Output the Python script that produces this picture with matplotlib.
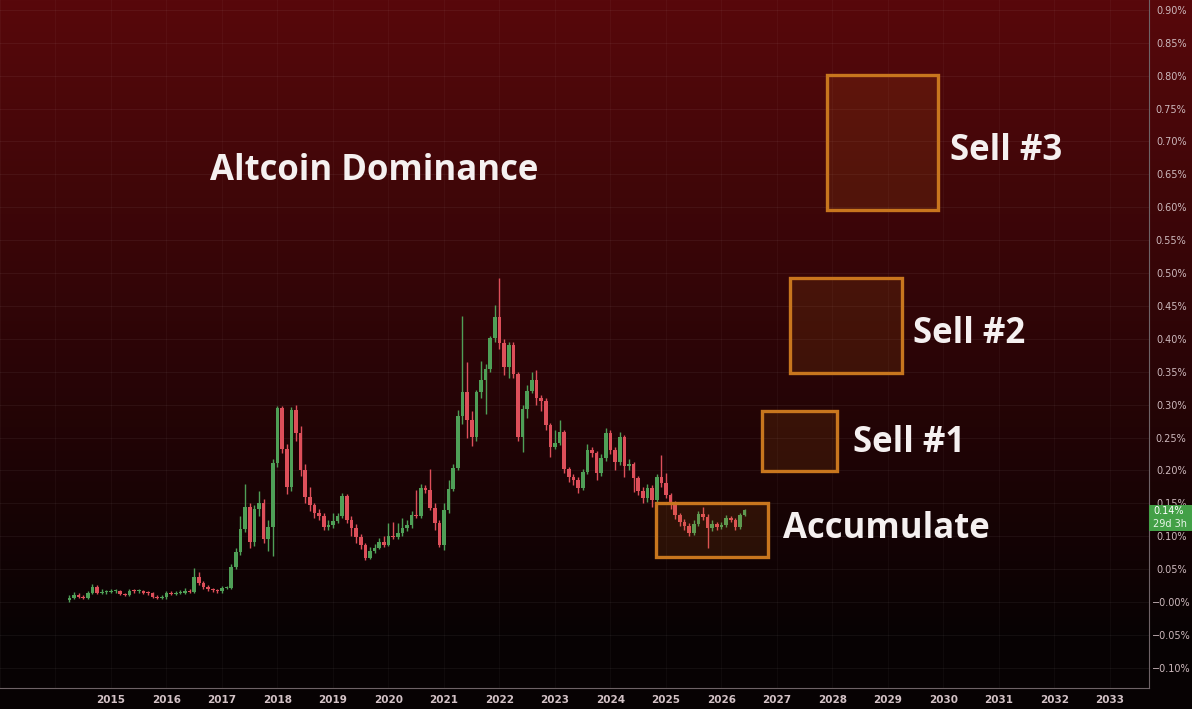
import matplotlib
matplotlib.use("Agg")
import matplotlib.pyplot as plt
import matplotlib.transforms as mtransforms
from matplotlib.patches import Rectangle
import numpy as np
import pandas as pd

# monthly candles, values in percent, starting April 2014
first_open = 0.003
close = [0.006, 0.011, 0.008, 0.006, 0.014, 0.023, 0.014, 0.015, 0.015, 0.016,
         0.016, 0.012, 0.011, 0.017, 0.016, 0.016, 0.014, 0.013, 0.008, 0.006,
         0.007, 0.013, 0.012, 0.014, 0.014, 0.017, 0.015, 0.038, 0.029, 0.023,
         0.020, 0.018, 0.016, 0.021, 0.022, 0.053, 0.076, 0.111, 0.144, 0.091,
         0.141, 0.150, 0.096, 0.114, 0.211, 0.295, 0.233, 0.175, 0.292, 0.257,
         0.201, 0.160, 0.147, 0.135, 0.131, 0.114, 0.117, 0.123, 0.131, 0.161,
         0.125, 0.112, 0.099, 0.087, 0.067, 0.078, 0.082, 0.091, 0.087, 0.100,
         0.099, 0.105, 0.112, 0.117, 0.132, 0.131, 0.173, 0.170, 0.143, 0.120,
         0.087, 0.140, 0.172, 0.204, 0.283, 0.319, 0.277, 0.251, 0.319, 0.337,
         0.354, 0.401, 0.433, 0.394, 0.357, 0.391, 0.347, 0.251, 0.293, 0.321,
         0.337, 0.310, 0.305, 0.269, 0.236, 0.242, 0.258, 0.202, 0.190, 0.185,
         0.173, 0.198, 0.231, 0.226, 0.196, 0.219, 0.257, 0.231, 0.213, 0.251,
         0.207, 0.210, 0.188, 0.169, 0.158, 0.173, 0.155, 0.190, 0.181, 0.163,
         0.150, 0.132, 0.122, 0.116, 0.105, 0.119, 0.134, 0.129, 0.112, 0.119,
         0.114, 0.117, 0.128, 0.125, 0.114, 0.132, 0.140]
high = [0.010, 0.015, 0.013, 0.010, 0.017, 0.027, 0.026, 0.019, 0.018, 0.019,
        0.020, 0.018, 0.014, 0.020, 0.020, 0.019, 0.018, 0.016, 0.015, 0.010,
        0.010, 0.016, 0.016, 0.017, 0.018, 0.021, 0.019, 0.051, 0.046, 0.032,
        0.026, 0.022, 0.020, 0.024, 0.025, 0.058, 0.082, 0.131, 0.179, 0.150,
        0.148, 0.168, 0.156, 0.125, 0.218, 0.298, 0.298, 0.240, 0.296, 0.300,
        0.268, 0.210, 0.175, 0.150, 0.142, 0.136, 0.124, 0.135, 0.136, 0.165,
        0.164, 0.130, 0.118, 0.103, 0.090, 0.083, 0.088, 0.097, 0.100, 0.120,
        0.122, 0.120, 0.128, 0.125, 0.138, 0.170, 0.180, 0.178, 0.202, 0.150,
        0.125, 0.150, 0.185, 0.210, 0.292, 0.434, 0.365, 0.290, 0.322, 0.366,
        0.362, 0.405, 0.452, 0.492, 0.400, 0.395, 0.395, 0.350, 0.300, 0.330,
        0.350, 0.352, 0.315, 0.310, 0.272, 0.262, 0.277, 0.262, 0.205, 0.195,
        0.190, 0.202, 0.240, 0.235, 0.230, 0.225, 0.264, 0.262, 0.235, 0.258,
        0.254, 0.218, 0.213, 0.192, 0.175, 0.180, 0.178, 0.195, 0.224, 0.196,
        0.166, 0.153, 0.135, 0.126, 0.120, 0.125, 0.138, 0.144, 0.134, 0.124,
        0.122, 0.122, 0.132, 0.131, 0.128, 0.135, 0.142]
low = [0.000, 0.004, 0.006, 0.004, 0.004, 0.012, 0.012, 0.012, 0.012, 0.013,
       0.013, 0.010, 0.009, 0.009, 0.014, 0.014, 0.012, 0.011, 0.006, 0.004,
       0.004, 0.005, 0.010, 0.010, 0.012, 0.012, 0.013, 0.013, 0.026, 0.019,
       0.017, 0.015, 0.013, 0.014, 0.019, 0.020, 0.050, 0.072, 0.107, 0.082,
       0.085, 0.130, 0.090, 0.077, 0.070, 0.205, 0.226, 0.164, 0.168, 0.245,
       0.192, 0.150, 0.138, 0.128, 0.124, 0.109, 0.110, 0.112, 0.120, 0.128,
       0.120, 0.100, 0.090, 0.080, 0.064, 0.066, 0.075, 0.080, 0.084, 0.085,
       0.095, 0.096, 0.100, 0.108, 0.112, 0.127, 0.128, 0.166, 0.140, 0.110,
       0.083, 0.079, 0.135, 0.168, 0.200, 0.270, 0.250, 0.237, 0.245, 0.310,
       0.285, 0.350, 0.395, 0.385, 0.345, 0.340, 0.340, 0.245, 0.228, 0.280,
       0.318, 0.300, 0.290, 0.262, 0.220, 0.232, 0.238, 0.196, 0.182, 0.178,
       0.165, 0.170, 0.195, 0.220, 0.185, 0.192, 0.215, 0.225, 0.200, 0.208,
       0.190, 0.200, 0.167, 0.162, 0.150, 0.152, 0.145, 0.150, 0.175, 0.158,
       0.142, 0.126, 0.116, 0.110, 0.100, 0.102, 0.115, 0.125, 0.082, 0.108,
       0.110, 0.111, 0.114, 0.121, 0.110, 0.111, 0.130]

# zones drawn on the chart (decimal years, percent)
zone_names = ["Accumulate", "Sell #1", "Sell #2", "Sell #3"]
zone_start = [2024.82, 2026.73, 2027.23, 2027.90]
zone_end = [2026.84, 2028.08, 2029.25, 2029.90]
zone_low = [0.068, 0.199, 0.348, 0.596]
zone_high = [0.150, 0.290, 0.492, 0.801]
label_year = [2027.11, 2028.37, 2029.45, 2030.12]
label_value = [0.111, 0.242, 0.407, 0.685]

years = list(range(2015, 2034))
ytick_vals = [-0.10, -0.05, 0.0, 0.05, 0.10, 0.15, 0.20, 0.25, 0.30, 0.35, 0.40,
              0.45, 0.50, 0.55, 0.60, 0.65, 0.70, 0.75, 0.80, 0.85, 0.90]
ytick_labels = ["\u22120.10%", "\u22120.05%", "\u22120.00%"] + \
               [f"{v:.2f}%" for v in ytick_vals[3:]]

W, H = 1192, 709
fig = plt.figure(figsize=(W / 100, H / 100), dpi=100)

# background gradient: dark red on top fading to black
bg = fig.add_axes([0, 0, 1, 1], zorder=0)
rows = np.arange(H)
t = np.clip(rows / 640.0, 0, 1)[:, None]
top_col = np.array([88, 8, 11]) / 255
bot_col = np.array([7, 2, 3]) / 255
grad = (top_col * (1 - t) + bot_col * t)[:, None, :]
bg.imshow(grad, extent=[0, 1, 0, 1], aspect="auto", origin="upper")
bg.axis("off")

ax = fig.add_axes([0, 21 / H, 1149 / W, 688 / H], zorder=1)
ax.patch.set_alpha(0)
ax.set_xlim(2013.0, 2033.703)
ax.set_ylim(-0.1307, 0.9149)

for v in ytick_vals:
    ax.axhline(v, color="white", alpha=0.05, lw=0.8, zorder=0)
for yr in range(2013, 2034):
    ax.axvline(yr, color="white", alpha=0.035, lw=0.8, zorder=0)

# candles
dates = pd.date_range("2014-04-01", periods=len(close), freq="MS")
xs = dates.year + (dates.month - 1) / 12.0
opens = [first_open] + close[:-1]
green, red = "#4f9f57", "#dd4f5a"
for x, o, c, h, l in zip(xs, opens, close, high, low):
    col = green if c >= o else red
    ax.vlines(x, l, h, color=col, lw=1.0, zorder=3)
    ax.bar(x, max(abs(c - o), 0.0018), bottom=min(o, c), width=0.065,
           color=col, linewidth=0, zorder=4)

# zones
orange = "#c8761e"
for i in range(len(zone_names)):
    ax.add_patch(Rectangle((zone_start[i], zone_low[i]),
                           zone_end[i] - zone_start[i], zone_high[i] - zone_low[i],
                           facecolor=(0.82, 0.45, 0.1, 0.13), edgecolor=orange,
                           lw=2.4, zorder=5))
    ax.text(label_year[i], label_value[i], zone_names[i], color="#f5f0f0",
            fontsize=25, fontweight="bold", family=["Open Sans", "DejaVu Sans"],
            ha="left", va="center", zorder=6)

ax.text(2016.78, 0.655, "Altcoin Dominance", color="#f5f0f0", fontsize=25,
        fontweight="bold", family=["Open Sans", "DejaVu Sans"],
        ha="left", va="center", zorder=6)

# axes styling
for s in ["top", "left"]:
    ax.spines[s].set_visible(False)
ax.spines["right"].set_color("#6e6266")
ax.spines["bottom"].set_color("#6e6266")
ax.yaxis.tick_right()
ax.set_yticks(ytick_vals)
ax.set_yticklabels(ytick_labels, ha="center")
ax.tick_params(axis="y", length=0, pad=16, labelsize=7, labelcolor="#cdb9bd")
ax.set_xticks(years)
ax.set_xticklabels([str(y) for y in years], fontweight="bold")
ax.tick_params(axis="x", length=0, pad=5, labelsize=7.5, labelcolor="#d3c2c6")

# last price tag
last = close[-1]
trans = mtransforms.blended_transform_factory(ax.transAxes, ax.transData)
ax.add_patch(Rectangle((1.0, last - 0.032), 43 / 1149, 0.039, transform=trans,
                       facecolor="#43a047", edgecolor="none", clip_on=False, zorder=7))
ax.text(1.0 + 4 / 1149, last - 0.002, f"{last:.2f}%", transform=trans, color="white",
        fontsize=7, va="center", ha="left", clip_on=False, zorder=8)
ax.text(1.0 + 4 / 1149, last - 0.021, "29d 3h", transform=trans, color="#e8f5e9",
        fontsize=7, va="center", ha="left", clip_on=False, zorder=8)

fig.savefig("out.png", dpi=100)
